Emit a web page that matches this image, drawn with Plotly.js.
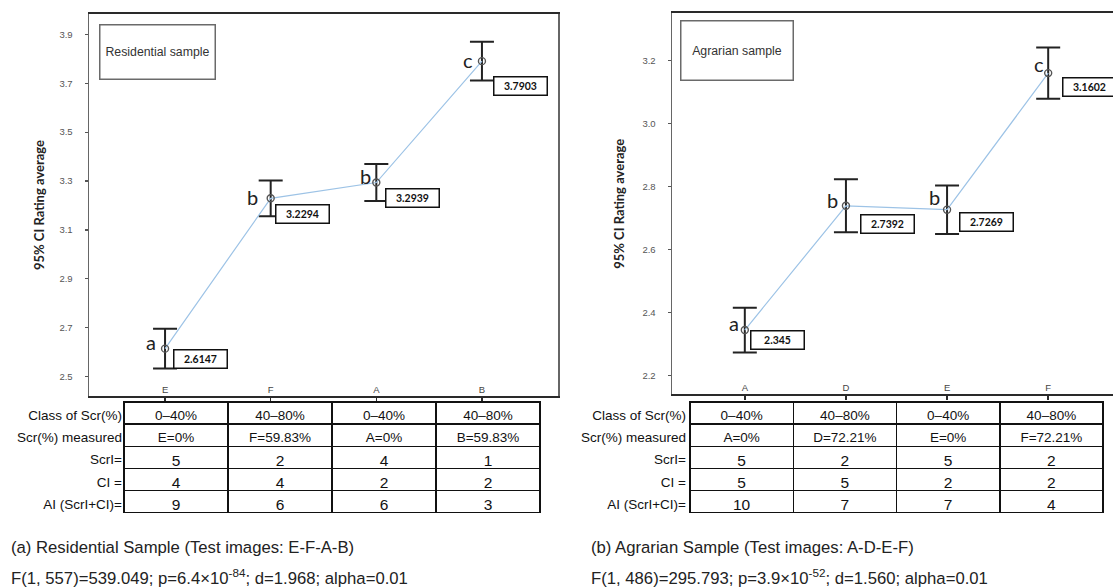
<!DOCTYPE html>
<html>
<head>
<meta charset="utf-8">
<script src="https://cdn.plot.ly/plotly-3.0.1.min.js"></script>
<style>
  html, body { margin: 0; padding: 0; background: #fff; overflow: hidden; }
  #chart { width: 1130px; height: 587px; }
</style>
</head>
<body>
<div id="chart"></div>
<script>
// ---------- data ----------
const resCats = ['E', 'F', 'A', 'B'];
const resMeans = [2.6147, 3.2294, 3.2939, 3.7903];
const resCI = [0.081, 0.073, 0.076, 0.079];
const resLetters = ['a', 'b', 'b', 'c'];

const agrCats = ['A', 'D', 'E', 'F'];
const agrMeans = [2.345, 2.7392, 2.7269, 3.1602];
const agrCI = [0.071, 0.084, 0.077, 0.081];
const agrLetters = ['a', 'b', 'b', 'c'];

const rowLabels = ['Class of Scr(%)', 'Scr(%) measured', 'ScrI=', 'CI =', 'AI (ScrI+CI)='];
const resClass = ['0\u201340%', '40\u201380%', '0\u201340%', '40\u201380%'];
const resMeasured = ['E=0%', 'F=59.83%', 'A=0%', 'B=59.83%'];
const resScrI = [5, 2, 4, 1];
const resClI = [4, 4, 2, 2];
const resAI = [9, 6, 6, 3];

const agrClass = ['0\u201340%', '40\u201380%', '0\u201340%', '40\u201380%'];
const agrMeasured = ['A=0%', 'D=72.21%', 'E=0%', 'F=72.21%'];
const agrScrI = [5, 2, 5, 2];
const agrClI = [5, 5, 2, 2];
const agrAI = [10, 7, 7, 4];

const resSampleName = 'Residential sample';
const agrSampleName = 'Agrarian sample';
const resCaption1 = '(a) Residential Sample (Test images: E-F-A-B)';
const resCaption2 = 'F(1, 557)=539.049; p=6.4\u00d710<sup>-84</sup>; d=1.968; alpha=0.01';
const agrCaption1 = '(b) Agrarian Sample (Test images: A-D-E-F)';
const agrCaption2 = 'F(1, 486)=295.793; p=3.9\u00d710<sup>-52</sup>; d=1.560; alpha=0.01';
const yTitle = '95% CI Rating average';

// ---------- label nudges (pixels) ----------
const resBoxShift = [[8, 0], [4, 6], [9, 5.5], [11, 15]];
const agrBoxShift = [[5, 0], [14, 8], [12, 2], [13.5, 4]];
const resLetterShift = [[-14, -6.5], [-18, -1], [-11, -6.5], [-13.5, -1]];
const agrLetterShift = [[-11, -7.5], [-13, -6], [-12.5, -12.5], [-9.5, -9]];

// ---------- helpers ----------
const W = 1130, H = 587;
const px = v => v / W;
const py = v => 1 - v / H;
const FONT = 'Liberation Sans, Arial, sans-serif';

function seriesTrace(cats, means, ci, xa, ya) {
  return {
    type: 'scatter', mode: 'lines+markers', x: cats, y: means,
    xaxis: xa, yaxis: ya,
    line: { color: '#9DC3E6', width: 1.2 },
    marker: { symbol: 'circle-open', size: 7, color: '#555', line: { width: 1.4, color: '#555' } },
    error_y: { type: 'data', array: ci, visible: true, color: '#222', thickness: 2, width: 12 },
    hoverinfo: 'skip', showlegend: false
  };
}

function pointAnnotations(cats, means, letters, boxShift, letterShift, xr, yr) {
  const out = [];
  cats.forEach((c, i) => {
    out.push({
      xref: xr, yref: yr, x: c, y: means[i], text: String(means[i]),
      showarrow: false, xanchor: 'left', yanchor: 'top',
      xshift: boxShift[i][0], yshift: -boxShift[i][1],
      width: 50, height: 15, borderpad: 1, borderwidth: 1.5, bordercolor: '#111',
      bgcolor: '#fff', align: 'center',
      font: { family: 'Lato, Liberation Sans, sans-serif', size: 10.5, color: '#111', weight: 'bold' }
    });
    out.push({
      xref: xr, yref: yr, x: c, y: means[i], text: letters[i],
      showarrow: false, xanchor: 'center', yanchor: 'middle',
      xshift: letterShift[i][0], yshift: -letterShift[i][1],
      font: { family: 'Lato, Liberation Sans, sans-serif', size: 20, color: '#222' }
    });
  });
  return out;
}

function labelTable(x0, x1, y0) {
  const tfont = { family: FONT, size: 13.5, color: '#111' };
  const none = { color: 'rgba(0,0,0,0)', width: 0 };
  return {
    type: 'table',
    domain: { x: [px(x0), px(x1)], y: [py(y0 + 116), py(y0)] },
    columnwidth: [1],
    header: { values: [rowLabels[0]], align: 'right', height: 22.2, line: none,
      fill: { color: 'rgba(0,0,0,0)' }, font: tfont },
    cells: { values: [rowLabels.slice(1)], align: 'right', height: 22.1, line: none,
      fill: { color: 'rgba(0,0,0,0)' }, font: tfont }
  };
}

function dataTable(x0, x1, y0, cls, measured, scri, cli, ai) {
  const cols = cls.map((_, i) => [measured[i], scri[i], cli[i], ai[i]]);
  return {
    type: 'table',
    domain: { x: [px(x0), px(x1)], y: [py(y0 + 116), py(y0)] },
    columnwidth: cls.map(() => 1),
    header: { values: cls, align: 'center', height: 22.2,
      line: { color: '#111', width: 1.5 }, fill: { color: '#fff' },
      font: { family: FONT, size: 13.5, color: '#111' } },
    cells: { values: cols, align: 'center', height: 22.1,
      line: { color: '#111', width: 1.5 }, fill: { color: '#fff' },
      font: { family: FONT, size: [[13.5, 15.5, 15.5, 15.5]], color: '#111' } }
  };
}

function xAxis(cats, d0, d1, anchor) {
  return {
    domain: [px(d0), px(d1)], anchor: anchor, type: 'category',
    categoryorder: 'array', categoryarray: cats, range: [-0.72, 3.72],
    showline: true, mirror: true, linecolor: '#2a2a2a', linewidth: 2,
    ticks: 'outside', ticklen: 4, tickwidth: 1.5, tickcolor: '#2a2a2a',
    ticklabelposition: 'inside',
    tickfont: { family: FONT, size: 9.5, color: '#444' },
    showgrid: false, zeroline: false, fixedrange: true
  };
}

function yAxis(top, bottom, range, tick0, anchor, standoff) {
  return {
    domain: [py(bottom), py(top)], anchor: anchor, range: range,
    tick0: tick0, dtick: 0.2, tickformat: '.1f',
    showline: true, mirror: true, linecolor: '#666', linewidth: 1.5,
    ticks: 'outside', ticklen: 3, tickwidth: 1.2, tickcolor: '#555',
    ticklabelstandoff: 10,
    tickfont: { family: FONT, size: 9.5, color: '#555' },
    title: { text: '<b>' + yTitle + '</b>', standoff: standoff,
      font: { family: 'Lato, Liberation Sans, sans-serif', size: 13, color: '#222' } },
    showgrid: false, zeroline: false, fixedrange: true
  };
}

function sampleBox(name, cx, cy, w, h) {
  return {
    xref: 'paper', yref: 'paper', x: px(cx), y: py(cy), text: name,
    showarrow: false, xanchor: 'center', yanchor: 'middle',
    width: w, height: h, borderpad: 0, borderwidth: 1.5, bordercolor: '#6a6a6a',
    bgcolor: '#fff', font: { family: FONT, size: 12.3, color: '#333' }
  };
}

function caption(text, x, y) {
  return {
    xref: 'paper', yref: 'paper', x: px(x), y: py(y), text: text,
    showarrow: false, xanchor: 'left', yanchor: 'middle', align: 'left',
    font: { family: FONT, size: 16.7, color: '#222' }
  };
}

const traces = [
  seriesTrace(resCats, resMeans, resCI, 'x', 'y'),
  seriesTrace(agrCats, agrMeans, agrCI, 'x2', 'y2'),
  labelTable(0, 130, 402),
  dataTable(124, 540, 402, resClass, resMeasured, resScrI, resClI, resAI),
  labelTable(560, 695, 402),
  dataTable(690, 1103, 402, agrClass, agrMeasured, agrScrI, agrClI, agrAI)
];

const annotations = []
  .concat(pointAnnotations(resCats, resMeans, resLetters, resBoxShift, resLetterShift, 'x', 'y'))
  .concat(pointAnnotations(agrCats, agrMeans, agrLetters, agrBoxShift, agrLetterShift, 'x2', 'y2'))
  .concat([
    sampleBox(resSampleName, 157.5, 52, 114, 53),
    sampleBox(agrSampleName, 737, 51, 111, 58),
    caption(resCaption1, 9, 547),
    caption(resCaption2, 9, 577),
    caption(agrCaption1, 589, 547),
    caption(agrCaption2, 589, 577)
  ]);

const layout = {
  width: W, height: H,
  margin: { l: 0, r: 0, t: 0, b: 0 },
  paper_bgcolor: '#fff', plot_bgcolor: '#fff',
  showlegend: false,
  xaxis: xAxis(resCats, 89, 558, 'y'),
  yaxis: yAxis(14, 396, [2.421, 3.983], 2.5, 'x', 12),
  xaxis2: xAxis(agrCats, 672, 1121, 'y2'),
  yaxis2: yAxis(13.3, 394.3, [2.141, 3.350], 2.2, 'x2', 15),
  annotations: annotations
};

Plotly.newPlot('chart', traces, layout, { displayModeBar: false, staticPlot: true });
</script>
</body>
</html>
